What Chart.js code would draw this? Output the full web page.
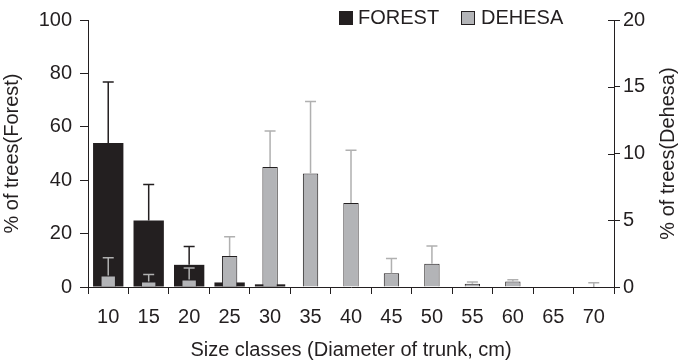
<!DOCTYPE html>
<html>
<head>
<meta charset="utf-8">
<script src="https://cdn.jsdelivr.net/npm/chart.js@4/dist/chart.umd.min.js"></script>
<style>
  html, body { margin: 0; padding: 0; background: #fff; }
  #wrap { width: 679px; height: 364px; }
</style>
</head>
<body>
<div id="wrap"><canvas id="size-chart"></canvas></div>
<script>
// size classes (cm)
var sizeClasses = ['10', '15', '20', '25', '30', '35', '40', '45', '50', '55', '60', '65', '70'];
// % of trees, forest (left axis) and its error
var forestValues = [53.9, 24.9, 8.3, 1.7, 1.0, 0, 0, 0, 0, 0, 0, 0, 0];
var forestErrors = [22.9, 13.5, 6.9, 0, 0, 0, 0, 0, 0, 0, 0, 0, 0];
// % of trees, dehesa (right axis) and its error
var dehesaValues = [0.86, 0.42, 0.56, 2.33, 8.98, 8.5, 6.29, 1.03, 1.74, 0.25, 0.42, 0, 0];
var dehesaErrors = [1.34, 0.51, 0.86, 1.44, 2.71, 5.4, 3.96, 1.1, 1.34, 0.12, 0.12, 0, 0.32];
var forestTicks = [0, 20, 40, 60, 80, 100];
var dehesaTicks = [0, 5, 10, 15, 20];

var ink = '#231f20';
var grey = '#b3b4b7';
var FONT = "'Liberation Sans', Arial, Helvetica, sans-serif";

Chart.defaults.font.family = FONT;
Chart.defaults.font.size = 20;
Chart.defaults.color = ink;

// error bars, right axis inner ticks, legend and the right title
var extras = {
  id: 'extras',
  afterDatasetsDraw: function(chart) {
    var c = chart.ctx;
    var x = chart.scales.x;
    var sets = [
      { vals: forestValues, errs: forestErrors, axis: chart.scales.yF, color: ink },
      { vals: dehesaValues, errs: dehesaErrors, axis: chart.scales.yD, color: '#b0b0b0' }
    ];
    c.save();
    c.lineWidth = 1.5;
    sets.forEach(function(s) {
      c.strokeStyle = s.color;
      for (var i = 0; i < s.vals.length; i++) {
        if (!s.errs[i]) continue;
        var px = x.getPixelForValue(i);
        var y0 = s.axis.getPixelForValue(s.vals[i]);
        var y1 = s.axis.getPixelForValue(s.vals[i] + s.errs[i]);
        c.beginPath();
        c.moveTo(px, y0); c.lineTo(px, y1);
        c.moveTo(px - 5.5, y1); c.lineTo(px + 5.5, y1);
        c.stroke();
      }
    });
    c.restore();
  },
  afterDraw: function(chart) {
    var c = chart.ctx;
    var yD = chart.scales.yD;
    c.save();
    // right axis ticks also cross inwards
    c.strokeStyle = ink;
    c.lineWidth = 1;
    dehesaTicks.forEach(function(t) {
      var py = Math.round(yD.getPixelForValue(t)) + 0.5;
      c.beginPath();
      c.moveTo(yD.left - 6, py); c.lineTo(yD.left, py);
      c.stroke();
    });

    // legend
    c.font = '20px ' + FONT;
    c.textBaseline = 'middle';
    c.fillStyle = ink;
    c.fillRect(339, 11, 14, 14);
    c.fillText('FOREST', 358, 18);
    c.fillStyle = grey;
    c.fillRect(461, 11, 14, 14);
    c.strokeStyle = ink;
    c.lineWidth = 1;
    c.strokeRect(461.5, 11.5, 13, 13);
    c.fillStyle = ink;
    c.fillText('DEHESA', 481, 18);

    // right title, read bottom to top
    c.translate(668, (chart.chartArea.top + chart.chartArea.bottom) / 2);
    c.rotate(-Math.PI / 2);
    c.textAlign = 'center';
    c.fillText('% of trees(Dehesa)', 0, 0);
    c.restore();
  }
};

var ctx = document.getElementById('size-chart');
var myChart = new Chart(ctx, {
  type: 'bar',
  data: {
    labels: sizeClasses,
    datasets: [{
      label: 'FOREST',
      data: forestValues,
      yAxisID: 'yF',
      backgroundColor: ink,
      borderWidth: 0,
      barPercentage: 0.75,
      categoryPercentage: 1,
      order: 2
    }, {
      label: 'DEHESA',
      data: dehesaValues,
      yAxisID: 'yD',
      backgroundColor: grey,
      borderColor: ink,
      borderWidth: 1,
      barPercentage: 0.38,
      categoryPercentage: 1,
      order: 1
    }]
  },
  options: {
    responsive: true,
    maintainAspectRatio: false,
    animation: false,
    grouped: false,
    layout: { padding: { top: 14, left: 0, right: 0, bottom: 0 } },
    plugins: {
      legend: { display: false },
      tooltip: { enabled: false }
    },
    scales: {
      x: {
        border: { color: ink, width: 1 },
        grid: { offset: true, drawOnChartArea: false, drawTicks: true, tickLength: 7, color: ink },
        ticks: { padding: 11, maxRotation: 0, autoSkip: false },
        title: { display: true, text: 'Size classes (Diameter of trunk, cm)', padding: { top: 0, bottom: 2 } },
        afterFit: function(s) { s.height = 77; }
      },
      yF: {
        position: 'left',
        min: 0, max: 100,
        afterBuildTicks: function(s) { s.ticks = forestTicks.map(function(v) { return { value: v }; }); },
        border: { color: ink, width: 1 },
        grid: { drawOnChartArea: false, tickLength: 8, color: ink },
        ticks: { padding: 8 },
        title: { display: true, text: '% of trees(Forest)', padding: { top: 0, bottom: 0 } },
        afterFit: function(s) { s.width = 88; }
      },
      yD: {
        position: 'right',
        min: 0, max: 20,
        afterBuildTicks: function(s) { s.ticks = dehesaTicks.map(function(v) { return { value: v }; }); },
        border: { color: ink, width: 1 },
        grid: { drawOnChartArea: false, tickLength: 6, color: ink },
        ticks: { padding: 3 },
        afterFit: function(s) { s.width = 65; }
      }
    }
  },
  plugins: [extras]
});
</script>
</body>
</html>
